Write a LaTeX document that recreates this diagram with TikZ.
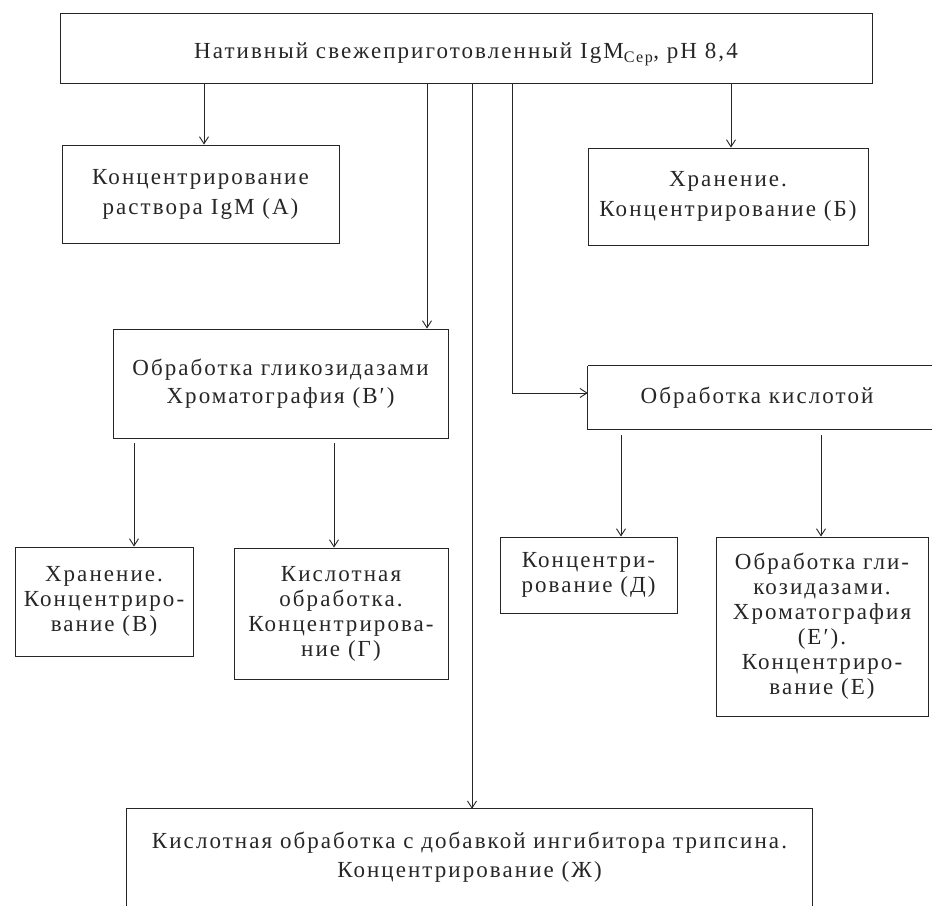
\documentclass[tikz,border=0pt]{standalone}
\usepackage{fontspec}
\setmainfont{Liberation Serif}[LetterSpace=9]
\usetikzlibrary{arrows.meta}
\begin{document}
\begin{tikzpicture}[x=1pt,y=-1pt,
  ln/.style={line width=0.9pt, draw=black!85},
  box/.style={ln, inner sep=0pt, align=center, text=black!85, font=\fontsize{23}{25}\selectfont},
  nobox/.style={inner sep=0pt, align=center, text=black!85, font=\fontsize{23}{25}\selectfont},
  wide/.style={font=\fontsize{23}{30}\selectfont},
  arr/.style={ln, -{Straight Barb[length=7pt,width=9pt]}}]
\useasboundingbox (0,0) rectangle (932,906);

% nodes
\node[box, minimum width=812pt, minimum height=70pt] (top) at (466,48)
  {\raisebox{-6pt}[\height][\depth]{Нативный свежеприготовленный IgM\textsubscript{Сер}, pH 8,4}};
\node[box, wide, minimum width=277pt, minimum height=98pt] (A) at (200.5,194)
  {Концентрирование\\раствора IgM (А)};
\node[box, wide, minimum width=280pt, minimum height=97pt] (B) at (728,196.5)
  {Хранение.\\Концентрирование (Б)};
\node[box, font=\fontsize{23}{28}\selectfont, minimum width=335pt, minimum height=109pt] (Bp) at (280.5,383.5)
  {Обработка гликозидазами\\Хроматография (В′)};
\node[nobox, minimum width=338pt, minimum height=63pt] (K) at (757,397.5)
  {Обработка кислотой};
\node[box, minimum width=178pt, minimum height=109pt] (V) at (104,601.5)
  {Хранение.\\Концентриро-\\вание (В)};
\node[box, minimum width=214pt, minimum height=131pt] (G) at (341,613.5)
  {Кислотная\\обработка.\\Концентрирова-\\ние (Г)};
\node[box, minimum width=177pt, minimum height=76pt] (D) at (588.5,575)
  {Концентри-\\рование (Д)};
\node[box, minimum width=212pt, minimum height=179pt] (E) at (822,626.5)
  {Обработка гли-\\козидазами.\\Хроматография\\(Е′).\\Концентриро-\\вание (Е)};
\node[nobox, font=\fontsize{23}{29}\selectfont, minimum width=685pt, minimum height=97pt] (Zh) at (469.5,857.5)
  {Кислотная обработка с добавкой ингибитора трипсина.\\Концентрирование (Ж)};

% open-sided frames
\draw[ln] (K.north west) -- ++(350,0);
\draw[ln] (K.north west) -- (K.south west) -- ++(350,0);
\draw[ln] (Zh.south west) -- (Zh.north west) -- (Zh.north east) -- (Zh.south east);

% helper coordinates
\coordinate (xA) at (204,0);
\coordinate (xBp) at (427,0);
\coordinate (xZh) at (472,0);
\coordinate (xK) at (512,0);
\coordinate (xB) at (731,0);
\coordinate (xV) at (134,0);
\coordinate (xG) at (334,0);
\coordinate (xD) at (621,0);
\coordinate (xE) at (821,0);
\coordinate (bpb) at ([yshift=-5pt]Bp.south);
\coordinate (kb) at ([yshift=-6pt]K.south);
\coordinate (kin) at ([yshift=4.5pt]K.west);

% connectors
\draw[arr] (top.south -| xA) -- (A.north -| xA);
\draw[arr] (top.south -| xBp) -- (Bp.north -| xBp);
\draw[arr] (top.south -| xZh) -- (Zh.north -| xZh);
\draw[arr] (top.south -| xK) |- (kin);
\draw[arr] (top.south -| xB) -- (B.north -| xB);
\draw[arr] (bpb -| xV) -- (V.north -| xV);
\draw[arr] (bpb -| xG) -- (G.north -| xG);
\draw[arr] (kb -| xD) -- (D.north -| xD);
\draw[arr] (kb -| xE) -- (E.north -| xE);
\end{tikzpicture}
\end{document}
